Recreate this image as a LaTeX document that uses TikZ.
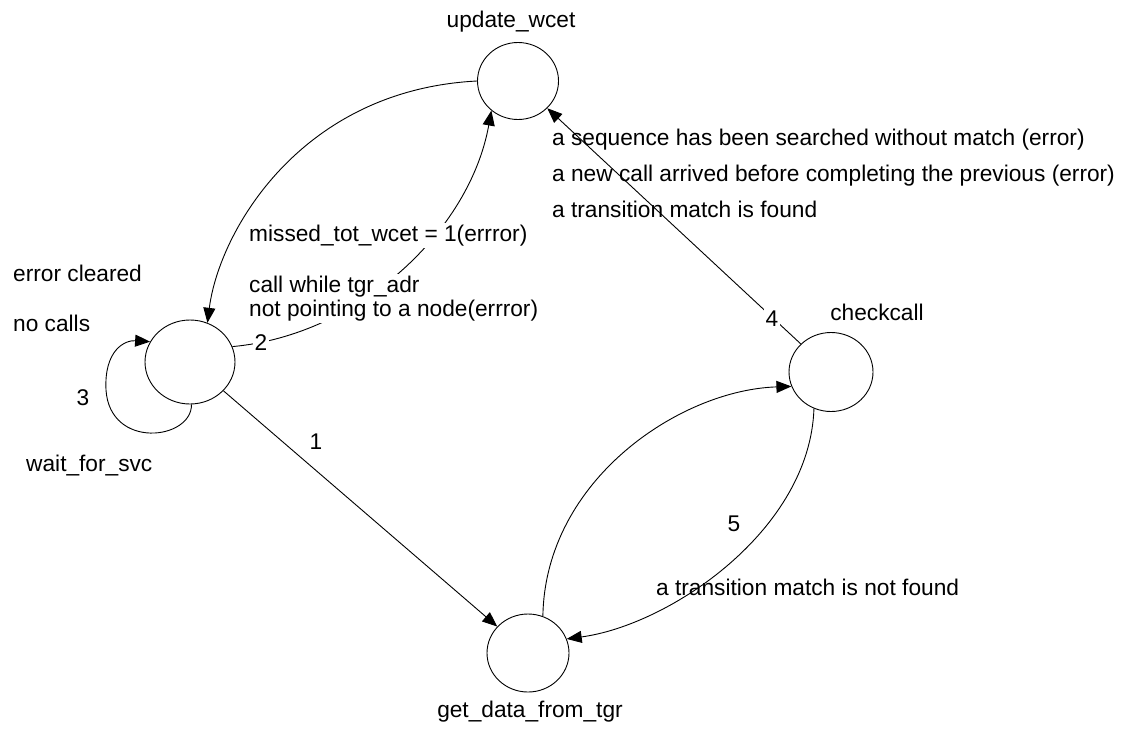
\documentclass[tikz,border=0pt]{standalone}
\usepackage{fontspec}
\setmainfont{Liberation Sans}
\usetikzlibrary{shapes.geometric,arrows.meta}
\begin{document}
\begin{tikzpicture}[x=1pt,y=-1pt,
  state/.style={draw, ellipse, inner sep=0pt, line width=0.9pt},
  trans/.style={draw, line width=0.9pt, -{Triangle[length=15pt,width=12pt]}},
  lbl/.style={font=\fontsize{22.7}{24}\selectfont, inner sep=0pt},
  cover/.style={lbl, fill=white, inner sep=2pt},
]
\useasboundingbox (0,0) rectangle (1123,731);

% states
\node[state, minimum width=81pt, minimum height=77pt] (uw) at (518,81) {};
\node[state, minimum width=90pt, minimum height=84pt] (ws) at (190,362) {};
\node[state, minimum width=84pt, minimum height=79pt] (cc) at (831,372) {};
\node[state, minimum width=82pt, minimum height=78pt] (gd) at (528,653) {};

% transitions
\draw[trans] (uw.180) .. controls (300,90) and (219,232) .. (ws.66);
\draw[trans] (ws.20) .. controls (360,335) and (470,230) .. (uw.228);
\draw[trans] (ws.272) .. controls (192,440) and (110,450) .. (106,390)
                      .. controls (104,350) and (125,340) .. (ws.153);
\draw[trans] (ws) -- (gd);
\draw[trans] (cc) -- (uw);
\draw[trans] (gd.68) .. controls (545,480) and (680,390) .. (cc.200);
\draw[trans] (cc.245) .. controls (810,530) and (670,625) .. (gd.20);

% state names
\node[lbl, anchor=base] (n_uw) at (511,27) {update\_wcet};
\node[lbl, anchor=base west] (n_ws) at (26,471) {wait\_for\_svc};
\node[lbl, anchor=base] (n_cc) at (877,320) {checkcall};
\node[lbl, anchor=base] (n_gd) at (530,717) {get\_data\_from\_tgr};

% transition labels
\node[lbl, anchor=base west] (l_ec) at (13,281) {error cleared};
\node[lbl, anchor=base west] (l_nc) at (13,331) {no calls};
\node[lbl, anchor=base] (l_3) at (83,405) {3};
\node[lbl, anchor=base] (l_1) at (316,449) {1};
\node[cover, anchor=base] (l_2) at (261,350) {2};
\node[cover, anchor=base] (l_4) at (772,326) {4};
\node[lbl, anchor=base] (l_5) at (734,531) {5};
\node[cover, anchor=base west] (l_mt) at (247,241) {missed\_tot\_wcet = 1(errror)};
\node[cover, anchor=base west] (l_cw) at (247,292) {call while tgr\_adr};
\node[cover, anchor=base west] (l_np) at (247,316) {not pointing to a node(errror)};
\node[lbl, anchor=base west] (l_sq) at (552,145) {a sequence has been searched without match (error)};
\node[lbl, anchor=base west] (l_nw) at (552,181) {a new call arrived before completing the previous (error)};
\node[lbl, anchor=base west] (l_tf) at (552,217) {a transition match is found};
\node[lbl, anchor=base west] (l_tn) at (656,595) {a transition match is not found};
\end{tikzpicture}
\end{document}
